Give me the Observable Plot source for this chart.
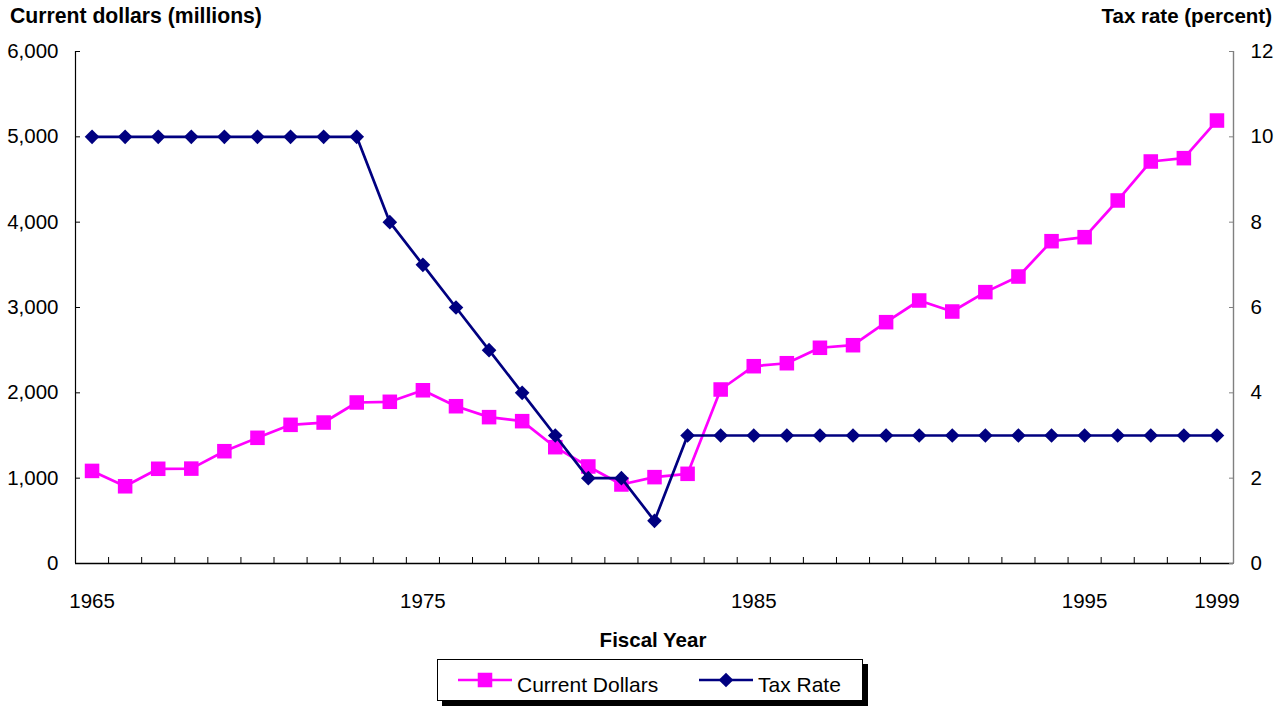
<!DOCTYPE html>
<html>
<head>
<meta charset="utf-8">
<script src="https://cdn.jsdelivr.net/npm/d3@7"></script>
<script src="https://cdn.jsdelivr.net/npm/@observablehq/plot@0.6"></script>
<style>
  body { margin: 0; background: #fff; font-family: "Liberation Sans", Arial, sans-serif; }
  #wrap { position: relative; width: 1286px; height: 707px; overflow: hidden; background: #fff; }
  .title { position: absolute; font-weight: bold; font-size: 20.5px; line-height: 20.5px; color: #000; white-space: nowrap; }
  #chart { position: absolute; left: 0; top: 34px; }
  #legend { position: absolute; left: 0; top: 0; }
</style>
</head>
<body>
<div id="wrap">
  <div class="title" id="tl" style="left:10px; top:5px; font-size:21.2px; line-height:21.2px;">Current dollars (millions)</div>
  <div class="title" id="tr" style="right:14px; top:5.6px;">Tax rate (percent)</div>
  <div id="chart"></div>
  <div class="title" id="xl" style="left:0; width:1306px; text-align:center; top:629.6px;">Fiscal Year</div>
  <svg id="legend" width="1286" height="707"></svg>
</div>
<script>
// ---- data ----
const years = [1965, 1966, 1967, 1968, 1969, 1970, 1971, 1972, 1973, 1974,
               1975, 1976, 1977, 1978, 1979, 1980, 1981, 1982, 1983, 1984,
               1985, 1986, 1987, 1988, 1989, 1990, 1991, 1992, 1993, 1994,
               1995, 1996, 1997, 1998, 1999];
const currentDollars = [1085, 905, 1110, 1112, 1316, 1473, 1625, 1652, 1887, 1895,
                        2030, 1843, 1715, 1668, 1363, 1137, 926, 1012, 1051, 2039,
                        2312, 2347, 2528, 2558, 2828, 3082, 2953, 3180, 3363, 3777,
                        3824, 4254, 4711, 4750, 5191];
const taxRate = [10, 10, 10, 10, 10, 10, 10, 10, 10, 8,
                 7, 6, 5, 4, 3, 2, 2, 1, 3, 3,
                 3, 3, 3, 3, 3, 3, 3, 3, 3, 3,
                 3, 3, 3, 3, 3];
const xTickLabels = [1965, 1975, 1985, 1995, 1999];
const leftTicks = [0, 1000, 2000, 3000, 4000, 5000, 6000];
const rightTicks = [0, 2, 4, 6, 8, 10, 12];
const seriesNames = ["Current Dollars", "Tax Rate"];
const seriesColors = ["#FF00FF", "#000080"];

// ---- build ----
const K = 6000 / 12; // right-axis (percent) to left-axis (dollars) factor
const rows = years.map((y, i) => ({ year: y, dollars: currentDollars[i], rate: taxRate[i] }));
const bounds = years.map(y => y - 0.5).concat([years[years.length - 1] + 0.5]);
const FONT = "Liberation Sans, Arial, sans-serif";

const chart = Plot.plot({
  width: 1286,
  height: 586,
  marginLeft: 75,
  marginRight: 53,
  marginTop: 17,
  marginBottom: 57,
  style: { fontFamily: FONT, fontSize: "20.5px", color: "#000", background: "transparent", overflow: "visible" },
  x: { domain: [bounds[0], bounds[bounds.length - 1]] },
  y: { domain: [0, 6000] },
  marks: [
    Plot.ruleX([bounds[0]], { stroke: "#000", strokeWidth: 1.2 }),
    Plot.ruleX([bounds[bounds.length - 1]], { stroke: "#808080", strokeWidth: 1.4 }),
    Plot.ruleY([0], { stroke: "#000", strokeWidth: 1.3 }),
    // inward tick marks
    Plot.axisY(leftTicks, { anchor: "left", tickSize: -5, tickFormat: () => "", label: null, stroke: "#000" }),
    Plot.axisY(rightTicks.map(d => d * K), { anchor: "right", tickSize: -5, tickFormat: () => "", label: null, stroke: "#808080" }),
    Plot.axisX(bounds.slice(1, -1), { anchor: "bottom", tickSize: -6, tickFormat: () => "", label: null, stroke: "#000" }),
    // tick labels
    Plot.axisY(leftTicks, { anchor: "left", tickSize: 0, tickPadding: 17, tickFormat: d3.format(","), label: null, fill: "#000" }),
    Plot.axisY(rightTicks.map(d => d * K), { anchor: "right", tickSize: 0, tickPadding: 17, tickFormat: d => String(d / K), label: null, fill: "#000" }),
    Plot.axisX(xTickLabels, { anchor: "bottom", tickSize: 0, tickPadding: 30, tickFormat: d3.format("d"), label: null, fill: "#000" }),
    // series
    Plot.line(rows, { x: "year", y: "dollars", stroke: seriesColors[0], strokeWidth: 2.7 }),
    Plot.dot(rows, { x: "year", y: "dollars", symbol: "square", r: 8.2, fill: seriesColors[0], stroke: "none" }),
    Plot.line(rows, { x: "year", y: d => d.rate * K, stroke: seriesColors[1], strokeWidth: 2.7 }),
    Plot.dot(rows, { x: "year", y: d => d.rate * K, symbol: "diamond2", r: 6.6, fill: seriesColors[1], stroke: "none" })
  ]
});
document.getElementById("chart").appendChild(chart);

// ---- legend ----
const lg = d3.select("#legend");
lg.append("rect").attr("x", 442).attr("y", 664).attr("width", 426).attr("height", 42).attr("fill", "#000");
lg.append("rect").attr("x", 437.5).attr("y", 659.5).attr("width", 425).attr("height", 41).attr("fill", "#fff").attr("stroke", "#000").attr("stroke-width", 1);
const items = [
  { x0: 458, x1: 512, tx: 517, sym: d3.symbolSquare, size: 8.2 * 8.2 * Math.PI },
  { x0: 699, x1: 753, tx: 758, sym: d3.symbolDiamond2, size: 6.6 * 6.6 * Math.PI }
];
items.forEach((it, i) => {
  lg.append("line").attr("x1", it.x0).attr("x2", it.x1).attr("y1", 680).attr("y2", 680)
    .attr("stroke", seriesColors[i]).attr("stroke-width", 2.7);
  lg.append("path").attr("d", d3.symbol(it.sym, it.size)())
    .attr("transform", `translate(${(it.x0 + it.x1) / 2},680)`).attr("fill", seriesColors[i]);
  lg.append("text").attr("x", it.tx).attr("y", 691.5).text(seriesNames[i])
    .attr("font-family", FONT).attr("font-size", "21px").attr("fill", "#000");
});
</script>
</body>
</html>
